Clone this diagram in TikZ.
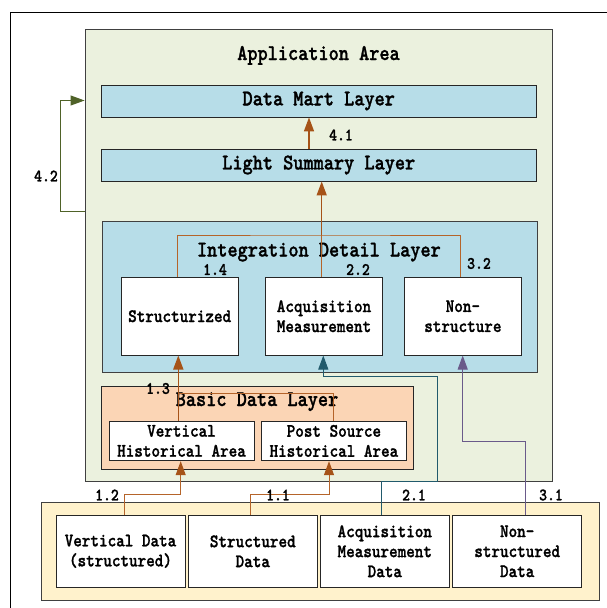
\documentclass[tikz,border=0pt]{standalone}
\usepackage{fontspec}
\usetikzlibrary{arrows.meta}
\newfontfamily\monob{lmmonolt10-bold.otf}[FakeStretch=0.86,FakeBold=1.2]
\definecolor{appfill}{HTML}{EBF1DE}
\definecolor{bluefill}{HTML}{B7DDE8}
\definecolor{peachfill}{HTML}{FBD5B5}
\definecolor{yellowfill}{HTML}{FFF2CC}
\definecolor{orangeC}{HTML}{A65318}
\definecolor{orangeL}{HTML}{B5642A}
\definecolor{tealC}{HTML}{215A6C}
\definecolor{purpC}{HTML}{6A5A8A}
\definecolor{greenC}{HTML}{4F6228}
\newcommand\bigfnt{\fontsize{22.5}{24}\selectfont\monob}
\newcommand\smallfnt{\fontsize{19}{20}\selectfont\monob}
\newcommand\lblfnt{\fontsize{17.5}{18}\selectfont\monob}
\tikzset{
  region/.style={draw=black!75, line width=0.9pt, inner sep=0pt},
  layer/.style={draw=black!85, line width=0.9pt, fill=bluefill, inner sep=0pt,
    minimum width=435.5pt, minimum height=32pt, font=\bigfnt},
  box/.style={draw=black!85, line width=0.9pt, fill=white, inner sep=0pt,
    align=center, font=\smallfnt},
  ttl/.style={inner sep=0pt, anchor=base, font=\bigfnt},
  lbl/.style={inner sep=0pt, font=\lblfnt},
  tip/.style={-{Triangle[length=14pt,width=10pt]}},
  athick/.style={tip, draw=orangeC, line width=1.5pt},
  othin/.style={draw=orangeL, line width=1pt},
  oarr/.style={draw=orangeL, line width=1pt, -{Triangle[length=14pt,width=10pt,color=orangeC,fill=orangeC]}},
  tarr/.style={tip, draw=tealC, line width=1pt},
  parr/.style={tip, draw=purpC, line width=1pt},
  garr/.style={tip, draw=greenC, line width=1pt},
}
\begin{document}
\begin{tikzpicture}[x=1pt,y=-1pt]
\useasboundingbox (0,0) rectangle (607,608);
\draw[line width=1.2pt] (10.7,608) -- (10.7,12.3) -- (607,12.3);

% regions
\node[region, fill=appfill, minimum width=467pt, minimum height=452pt] (app) at (318.5,255.5) {};
\node[region, fill=yellowfill, minimum width=557.6pt, minimum height=97.3pt] (src) at (320.5,551.3) {};
\node[ttl] (tapp) at (318.5,60) {Application Area};

\node[layer] (dm) at (318.75,101) {Data Mart Layer};
\node[layer] (ls) at (318.75,165) {Light Summary Layer};

\node[region, fill=bluefill, minimum width=435pt, minimum height=151pt] (idl) at (319.5,296.5) {};
\node[ttl] (tidl) at (318.9,256.5) {Integration Detail Layer};
\node[box, minimum width=117.3pt, minimum height=77.7pt] (s1) at (179.7,316.2) {Structurized};
\node[box, minimum width=117.4pt, minimum height=77.7pt] (s2) at (324,316.2) {Acquisition\\Measurement};
\node[box, minimum width=117.7pt, minimum height=77.7pt] (s3) at (462.9,316.2) {Non-\\structure};

\node[region, draw=black!85, fill=peachfill, minimum width=311.6pt, minimum height=82.6pt] (bdl) at (257.5,428) {};
\node[ttl] (tbdl) at (257,406) {Basic Data Layer};
\node[box, minimum width=145pt, minimum height=39.7pt] (vh) at (181.5,440.9) {Vertical\\Historical Area};
\node[box, minimum width=145.7pt, minimum height=39.7pt] (ph) at (333.9,440.9) {Post Source\\Historical Area};

\node[box, minimum width=129pt, minimum height=71.3pt] (d1) at (120.5,551.3) {Vertical Data\\(structured)};
\node[box, minimum width=129pt, minimum height=71.3pt] (d2) at (252.8,551.3) {Structured\\Data};
\node[box, minimum width=129pt, minimum height=71.3pt] (d3) at (384.8,551.3) {Acquisition\\Measurement\\Data};
\node[box, minimum width=129pt, minimum height=71.3pt] (d4) at (517.2,551.3) {Non-\\structured\\Data};

% connectors
\draw[athick] (309,0 |- ls.north) -- (309,0 |- dm.south);
\coordinate (j1) at (321.7,235);
\draw[othin] (321.7,0 |- s2.north) -- (j1);
\draw[athick] (j1) -- (321.7,0 |- ls.south);
\draw[othin] (177.7,0 |- s1.north) |- (j1) -| (460.7,0 |- s3.north);

\draw[athick] (178.3,0 |- vh.north) -- (178.3,0 |- s1.south);
\draw[othin] (333.3,0 |- ph.north) |- (178.3,393.3);

\draw[oarr] (124.3,0 |- d1.north) |- (180.7,494.5) -- (180.7,0 |- vh.south);
\draw[oarr] (250,0 |- d2.north) |- (329,494.5) -- (329,0 |- ph.south);

\draw[tarr] (381.7,0 |- d3.north) |- (437.8,481.7) |- (323.3,376) -- (323.3,0 |- s2.south);
\draw[parr] (525.7,0 |- d4.north) |- (462.7,441.7) -- (462.7,0 |- s3.south);
\draw[garr] (app.west |- 0,211) -| (60.3,100.5) -- (app.west |- 0,100.5);

% labels
\node[lbl] (l41) at (341,135) {4.1};
\node[lbl] (l42) at (46,176) {4.2};
\node[lbl] (l14) at (215,269.5) {1.4};
\node[lbl] (l22) at (358,269.5) {2.2};
\node[lbl] (l32) at (479,263.5) {3.2};
\node[lbl] (l13) at (158,388.5) {1.3};
\node[lbl] (l12) at (107,495) {1.2};
\node[lbl] (l11) at (278,495) {1.1};
\node[lbl] (l21) at (414,495) {2.1};
\node[lbl] (l31) at (551,495) {3.1};
\end{tikzpicture}
\end{document}
